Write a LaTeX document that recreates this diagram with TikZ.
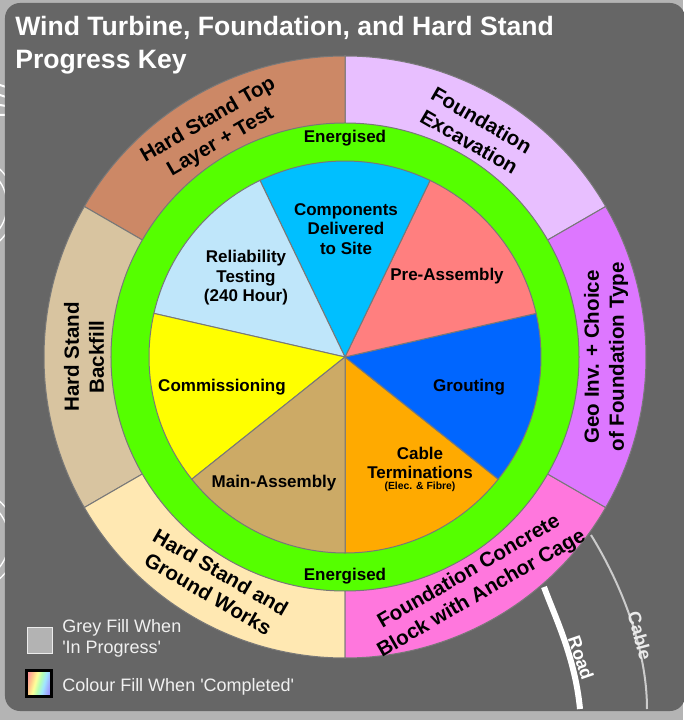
\documentclass[tikz,border=0pt]{standalone}
\usepackage{fontspec}
\setmainfont{Liberation Sans}

\definecolor{backdrop}{HTML}{B4B4B4}
\definecolor{panel}{HTML}{666666}
\definecolor{edge}{HTML}{787878}
\definecolor{hsTop}{HTML}{CC8866}
\definecolor{hsBackfill}{HTML}{D8C4A0}
\definecolor{hsGround}{HTML}{FFE8B2}
\definecolor{fdConcrete}{HTML}{FF77DD}
\definecolor{fdGeo}{HTML}{DD77FF}
\definecolor{fdExcav}{HTML}{E8BFFF}
\definecolor{energised}{HTML}{55FF00}
\definecolor{wtComp}{HTML}{00BFFF}
\definecolor{wtPre}{HTML}{FF7F7F}
\definecolor{wtGrout}{HTML}{0066FF}
\definecolor{wtCable}{HTML}{FFAA00}
\definecolor{wtMain}{HTML}{CCAA66}
\definecolor{wtComm}{HTML}{FFFF00}
\definecolor{wtRel}{HTML}{BFE6FA}
\definecolor{keyGrey}{HTML}{B3B3B3}
\definecolor{cableGrey}{HTML}{CCCCCC}
\definecolor{rbA}{HTML}{FF9A9A}
\definecolor{rbB}{HTML}{FFC88C}
\definecolor{rbC}{HTML}{FFFF99}
\definecolor{rbD}{HTML}{B4FFB4}
\definecolor{rbE}{HTML}{A0E6FF}
\definecolor{rbF}{HTML}{A0B4FF}
\definecolor{rbG}{HTML}{9A90FF}

\pgfdeclarehorizontalshading{rainbowkey}{100bp}{color(0bp)=(rbA);
  color(25bp)=(rbA); color(33bp)=(rbB); color(42bp)=(rbC);
  color(51bp)=(rbD); color(60bp)=(rbE); color(68bp)=(rbF);
  color(75bp)=(rbG); color(100bp)=(rbG)}

\begin{document}
\begin{tikzpicture}[x = .75pt, y = .75pt,
  sector/.style = {draw = edge, line width = .75pt},
  ringlbl/.style = {font = \bfseries\fontsize{15.4}{18.75}\selectfont,
    align = center, inner sep = 0},
  pielbl/.style = {font = \bfseries\fontsize{12.75}{14.6}\selectfont,
    align = center, inner sep = 0},
  keylbl/.style = {font = \fontsize{13.5}{15.75}\selectfont,
    text = white!94!black, align = left, inner sep = 0, anchor = base west},
  routelbl/.style = {font = \bfseries\fontsize{13.5}{16}\selectfont,
    inner sep = 0}]
  \useasboundingbox (-345, -363) rectangle (338, 357);
  \fill[backdrop] (-345, -363) rectangle (338, 357);

  % bits of the site map behind the key
  \begin{scope}
    \clip (-345, -363) rectangle (-339, 357);
    \draw[white, line width = 1pt] (-380, 152) circle[radius = 50]
      (-380, 152) circle[radius = 42] (-380, -183) circle[radius = 52]
      (-380, -183) circle[radius = 44];
    \draw[white, line width = 1.5pt] (-345, 272) -- (-339, 270)
      (-345, 262) -- (-339, 260) (-345, 252) -- (-339, 251)
      (-345, 242) -- (-339, 242);
  \end{scope}

  \fill[panel, rounded corners = 11.25pt] (-340, -354) rectangle (340, 354);

  % base of a two line node is its last line
  \node[anchor = base west, font = \bfseries\fontsize{19.95}{24.75}\selectfont,
    text = white, align = left, inner sep = 0] (title) at (-330, 288)
  {Wind Turbine, Foundation, and Hard Stand\\Progress Key};

  % outer ring
  \filldraw[sector, fill = fdExcav] (0, 0) -- (30:301)
    arc[start angle = 30, end angle = 90, radius = 301] -- cycle;
  \filldraw[sector, fill = hsTop] (0, 0) -- (90:301)
    arc[start angle = 90, end angle = 150, radius = 301] -- cycle;
  \filldraw[sector, fill = hsBackfill] (0, 0) -- (150:301)
    arc[start angle = 150, end angle = 210, radius = 301] -- cycle;
  \filldraw[sector, fill = hsGround] (0, 0) -- (210:301)
    arc[start angle = 210, end angle = 270, radius = 301] -- cycle;
  \filldraw[sector, fill = fdConcrete] (0, 0) -- (270:301)
    arc[start angle = 270, end angle = 330, radius = 301] -- cycle;
  \filldraw[sector, fill = fdGeo] (0, 0) -- (-30:301)
    arc[start angle = -30, end angle = 30, radius = 301] -- cycle;

  \filldraw[sector, fill = energised] (0, 0) circle[radius = 234];

  % inner pie, seven equal slices
  \filldraw[sector, fill = wtCable] (0, 0) -- (-90:196)
    arc[start angle = -90, end angle = -38.571, radius = 196] -- cycle;
  \filldraw[sector, fill = wtGrout] (0, 0) -- (-38.571:196)
    arc[start angle = -38.571, end angle = 12.857, radius = 196] -- cycle;
  \filldraw[sector, fill = wtPre] (0, 0) -- (12.857:196)
    arc[start angle = 12.857, end angle = 64.286, radius = 196] -- cycle;
  \filldraw[sector, fill = wtComp] (0, 0) -- (64.286:196)
    arc[start angle = 64.286, end angle = 115.714, radius = 196] -- cycle;
  \filldraw[sector, fill = wtRel] (0, 0) -- (115.714:196)
    arc[start angle = 115.714, end angle = 167.143, radius = 196] -- cycle;
  \filldraw[sector, fill = wtComm] (0, 0) -- (167.143:196)
    arc[start angle = 167.143, end angle = 218.571, radius = 196] -- cycle;
  \filldraw[sector, fill = wtMain] (0, 0) -- (218.571:196)
    arc[start angle = 218.571, end angle = 270, radius = 196] -- cycle;

  \node[ringlbl, rotate = -30] (excav) at (60:261) {Foundation\\Excavation};
  \node[ringlbl, rotate = 30] (hstop) at (120:261)
  {Hard Stand Top\\Layer + Test};
  \node[ringlbl, rotate = 90] (backfill) at (180:261) {Hard Stand\\Backfill};
  \node[ringlbl, rotate = -30] (ground) at (240:261)
  {Hard Stand and\\Ground Works};
  \node[ringlbl, rotate = 30] (concrete) at (-60:261)
  {Foundation Concrete\\Block with Anchor Cage};
  \node[ringlbl, rotate = 90] (geoinv) at (0:261)
  {Geo Inv. + Choice\\of Foundation Type};

  \node[pielbl] (energtop) at (0, 219) {Energised};
  \node[pielbl] (energbot) at (0, -219) {Energised};

  \node[pielbl] (comp) at (1, 128) {Components\\Delivered\\to Site};
  \node[pielbl] (preasm) at (102, 81) {Pre-Assembly};
  \node[pielbl] (grout) at (124, -30) {Grouting};
  \node[pielbl] (cableterm) at (75, -106) {Cable\\Terminations};
  \node[pielbl, font = \bfseries\fontsize{7.8}{9}\selectfont] (cablesub)
    at (75, -130) {(Elec. \& Fibre)};
  \node[pielbl] (mainasm) at (-71, -126) {Main-Assembly};
  \node[pielbl] (commis) at (-123, -30) {Commissioning};
  \node[pielbl] (reltest) at (-99, 79) {Reliability\\Testing\\(240 Hour)};

  % road and cable leaving the turbine
  \draw[white, line width = 4.5pt] (199, -230) .. controls (210, -260) and
    (230, -300) .. (235, -352);
  \draw[cableGrey, line width = 1.5pt] (246, -178) .. controls (275, -225) and
    (302, -290) .. (302, -352);
  \node[routelbl, text = white, rotate = -71] (roadlbl) at (236, -301) {Road};
  \node[routelbl, text = white!92!black, rotate = -75] (cablelbl)
    at (295, -279) {Cable};

  % key
  \filldraw[draw = white!75!keyGrey, fill = keyGrey, line width = .5pt]
    (-318, -270) rectangle (-293, -296);
  \shade[shading = rainbowkey, shading angle = -15] (-318.5, -313.5)
    rectangle (-293.5, -339.5);
  \draw[black, line width = 2.25pt] (-318.5, -313.5) rectangle (-293.5, -339.5);
  \node[keylbl] (greytxt) at (-283, -296)
  {Grey Fill When\\\textquotesingle In Progress\textquotesingle};
  \node[keylbl] (colourtxt) at (-283, -334)
  {Colour Fill When \textquotesingle Completed\textquotesingle};
\end{tikzpicture}
\end{document}
